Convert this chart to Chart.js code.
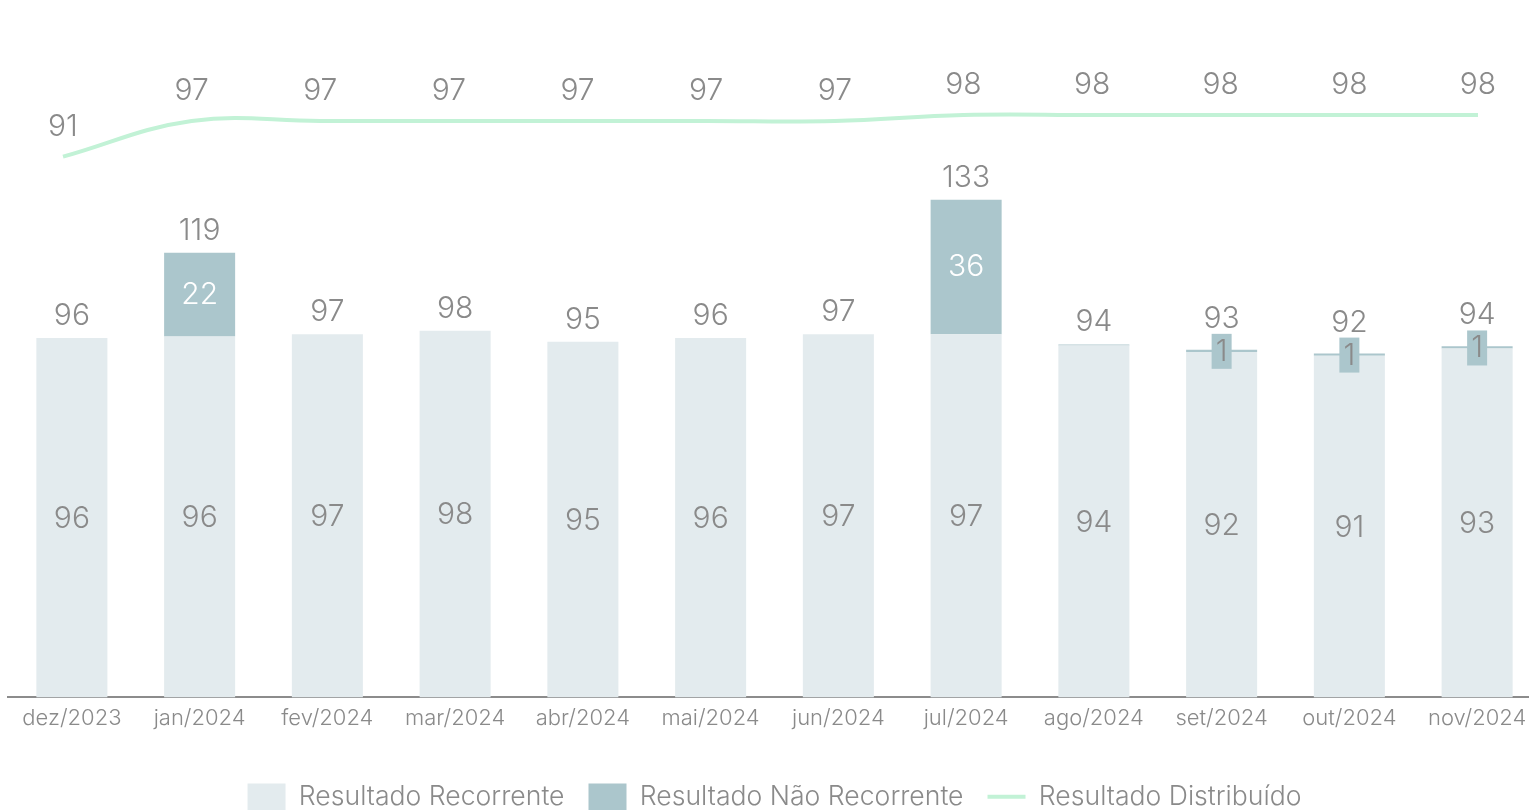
<!DOCTYPE html>
<html>
<head>
<meta charset="utf-8">
<script src="https://cdn.jsdelivr.net/npm/chart.js@4.4.1/dist/chart.umd.min.js"></script>
<style>
  html, body { margin: 0; padding: 0; background: #fff; overflow: hidden; }
  #wrap { width: 1541px; height: 830px; }
</style>
</head>
<body>
<div id="wrap"><canvas id="myChart"></canvas></div>
<script>
const meses = ['dez/2023', 'jan/2024', 'fev/2024', 'mar/2024', 'abr/2024', 'mai/2024',
               'jun/2024', 'jul/2024', 'ago/2024', 'set/2024', 'out/2024', 'nov/2024'];
const recorrente    = [96, 96.4, 97, 98, 95, 96, 97, 97, 94, 92.3, 91.3, 93.2];
const naoRecorrente = [0, 22.4, 0, 0, 0, 0, 0, 36, 0.3, 0.6, 0.6, 0.6];
const distribuido   = [91, 97, 97, 97, 97, 97, 97, 98, 98, 98, 98, 98];

const gray = '#8a8a8a';
const corRec = '#e3ebee';
const corNaoRec = '#abc6cc';
const corLinha = '#c2f2d6';
const fonte = 'Inter, Lato, sans-serif';

// labels drawn by hand (no datalabels plugin available offline)
const valueLabels = {
    id: 'valueLabels',
    afterDatasetsDraw(chart) {
        const ctx = chart.ctx;
        const rec = chart.getDatasetMeta(0).data;
        const nr = chart.getDatasetMeta(1).data;
        const line = chart.getDatasetMeta(2).data;
        ctx.save();
        ctx.textAlign = 'center';
        ctx.textBaseline = 'middle';
        ctx.font = '300 30px ' + fonte;

        rec.forEach((bar, i) => {
            ctx.fillStyle = gray;
            ctx.fillText(Math.round(recorrente[i]), bar.x, (bar.y + bar.base) / 2 + 1);
        });

        nr.forEach((bar, i) => {
            const v = naoRecorrente[i];
            let top = Math.min(bar.y, rec[i].y) - 7;
            const mid = (bar.y + bar.base) / 2;
            if (v >= 0.5) {
                if (Math.abs(bar.base - bar.y) > 40) {
                    ctx.fillStyle = '#ffffff';
                    ctx.fillText(Math.round(v), bar.x, mid);
                } else {
                    // small segment: label gets a box in the bar colour
                    ctx.fillStyle = corNaoRec;
                    ctx.fillRect(bar.x - 10, mid - 17, 20, 35);
                    ctx.fillStyle = gray;
                    ctx.fillText(Math.round(v), bar.x, mid + 1);
                    top = mid - 17;
                }
            }
            ctx.fillStyle = gray;
            ctx.fillText(Math.round(recorrente[i] + v), bar.x, top - 15);
        });

        line.forEach((pt, i) => {
            ctx.fillStyle = gray;
            ctx.fillText(distribuido[i], pt.x, pt.y - 30);
        });
        ctx.restore();
    }
};

const ctx = document.getElementById('myChart').getContext('2d');
Chart.defaults.font.family = fonte;
Chart.defaults.font.weight = '300';
Chart.defaults.color = gray;

const chart = new Chart(ctx, {
    type: 'bar',
    data: {
        labels: meses,
        datasets: [
            {
                label: 'Resultado Recorrente',
                data: recorrente,
                backgroundColor: corRec,
                stack: 'a',
                yAxisID: 'y',
                order: 2,
                pointStyle: 'rect'
            },
            {
                label: 'Resultado Não Recorrente',
                data: naoRecorrente,
                backgroundColor: corNaoRec,
                stack: 'a',
                yAxisID: 'y',
                order: 2,
                pointStyle: 'rect'
            },
            {
                type: 'line',
                label: 'Resultado Distribuído',
                data: distribuido.map((v, i) => ({ x: i, y: v })),
                borderColor: corLinha,
                backgroundColor: corLinha,
                borderWidth: 4,
                tension: 0.4,
                pointRadius: 0,
                pointStyle: 'line',
                xAxisID: 'x2',
                yAxisID: 'y1',
                order: 1
            }
        ]
    },
    options: {
        responsive: true,
        maintainAspectRatio: false,
        animation: false,
        layout: { padding: { left: 8, right: 0, top: 20, bottom: 10 } },
        datasets: { bar: { categoryPercentage: 1, barPercentage: 0.556, grouped: false } },
        scales: {
            x: {
                stacked: true,
                grid: { display: false },
                border: { display: true, color: '#8c8c8c', width: 2 },
                ticks: { color: gray, font: { size: 22, weight: '300' }, padding: 0, maxRotation: 0 },
                afterFit: (s) => { s.height = 62; }
            },
            x2: { type: 'linear', display: false, offset: false, min: -0.4276, max: 11.49 },
            y: { stacked: true, display: false, min: 0, max: 181 },
            y1: { display: false, min: 0, max: 114 }
        },
        plugins: {
            tooltip: { enabled: false },
            legend: {
                position: 'bottom',
                labels: {
                    usePointStyle: true,
                    pointStyleWidth: 38,
                    color: gray,
                    padding: 24,
                    font: { size: 26.6, weight: '300' },
                    sort: (a, b) => a.datasetIndex - b.datasetIndex
                }
            }
        }
    },
    plugins: [valueLabels]
});
</script>
</body>
</html>
